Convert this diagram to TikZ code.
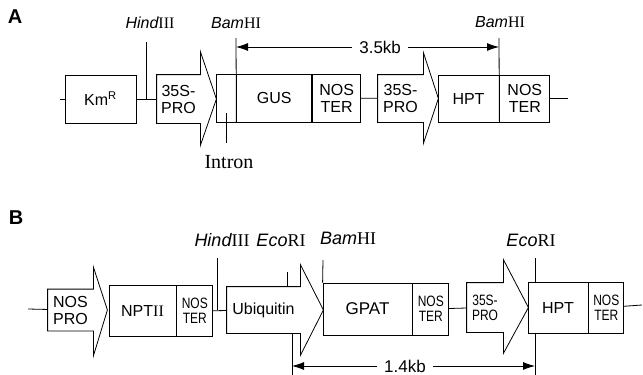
\documentclass[tikz,border=0pt]{standalone}
\usepackage{fontspec}
\setmainfont{Liberation Serif}
\setsansfont{Liberation Sans}
\newfontfamily\condsans[FakeStretch=0.8]{Liberation Sans}
\usetikzlibrary{arrows.meta}
\newcommand\renz[2]{{\sffamily\itshape #1}{\rmfamily #2}}
\tikzset{
  part/.style={draw, rectangle, inner sep=0pt, align=center, font=\sffamily\fontsize{16}{17}\selectfont},
  prom/.style={rectangle, inner sep=0pt, align=center, font=\sffamily\fontsize{16}{17}\selectfont},
  cond/.style={font=\condsans\fontsize{15}{15}\selectfont},
  site/.style={font=\fontsize{16}{18}\selectfont},
  panel/.style={font=\sffamily\bfseries\fontsize{20}{20}\selectfont},
  dim/.style={{Latex[length=12pt,width=8pt]}-{Latex[length=12pt,width=8pt]}},
}
\begin{document}
\begin{tikzpicture}[x=1pt,y=-1pt,line width=0.8pt]
  \useasboundingbox (0,0) rectangle (643,375);
  % A
  \node[panel] (labA) at (15,17) {A};
  \node[part, minimum width=71pt, minimum height=48pt] (km) at (100.5,99) {Km\textsuperscript{R}};
  \node[prom, minimum width=43pt, minimum height=48pt] (proA1) at (178.5,99) {35S-\\PRO};
  \draw (proA1.south west) -- (proA1.north west) -- (proA1.north east) -- ([yshift=23pt]proA1.north east)
    -- ([xshift=16pt]proA1.east) -- ([yshift=-22pt]proA1.south east) -- (proA1.south east) -- cycle;
  \node[part, minimum width=20pt, minimum height=48pt] (intr) at (226,98) {};
  \node[part, minimum width=75pt, minimum height=48pt, anchor=west] (gus) at (intr.east) {GUS};
  \node[part, minimum width=48pt, minimum height=48pt, anchor=west] (terA1) at (gus.east) {NOS\\TER};
  \node[prom, minimum width=45pt, minimum height=47pt] (proA2) at (400.5,98.5) {35S-\\PRO};
  \draw (proA2.south west) -- (proA2.north west) -- (proA2.north east) -- ([yshift=22pt]proA2.north east)
    -- ([xshift=15pt]proA2.east) -- ([yshift=-21pt]proA2.south east) -- (proA2.south east) -- cycle;
  \node[part, minimum width=61pt, minimum height=47pt] (hptA) at (468.5,98.5) {HPT};
  \node[part, minimum width=50pt, minimum height=47pt, anchor=west] (terA2) at (hptA.east) {NOS\\TER};
  \coordinate (startA) at (60,99);
  \coordinate (endA) at (568,98.5);
  \draw (startA) -- (km);
  \draw (km) -- (proA1);
  \draw (terA1) -- (proA2);
  \draw (terA2) -- (endA);
  % sites A
  \node[site] (hindA) at (150,23) {\renz{Hind}{III}};
  \node[site] (bamA1) at (236,23) {\renz{Bam}{HI}};
  \node[site] (bamA2) at (500,22) {\renz{Bam}{HI}};
  \coordinate (cutA1) at (146,42);
  \coordinate (cutA2) at (236,38);
  \coordinate (cutA3) at (499,38);
  \draw (cutA1) -- (cutA1 |- km.west);
  \draw (cutA2) -- (gus.south west);
  \draw (cutA3) -- (hptA.south east);
  \node[font=\rmfamily\fontsize{20}{20}\selectfont] (intron) at (229,162) {Intron};
  \coordinate (intA) at (226,113);
  \draw (intA) -- (226,143);
  \draw[dim] (cutA2 |- 0,47) -- (cutA3 |- 0,47)
    node[pos=0.548, fill=white, inner xsep=7pt, font=\sffamily\fontsize{17}{17}\selectfont] {3.5kb};
  % B
  \node[panel] (labB) at (16,218) {B};
  \node[prom, minimum width=45pt, minimum height=41pt] (proB1) at (70.5,310) {NOS\\PRO};
  \draw (proB1.south west) -- (proB1.north west) -- (proB1.north east) -- ([yshift=22pt]proB1.north east)
    -- ([xshift=14pt]proB1.east) -- ([yshift=-25pt]proB1.south east) -- (proB1.south east) -- cycle;
  \node[part, minimum width=67pt, minimum height=51pt] (npt) at (142.5,311) {NPT{\rmfamily II}};
  \node[part, cond, minimum width=36pt, minimum height=51pt, anchor=west] (terB1) at (npt.east) {NOS\\TER};
  \node[prom, minimum width=73pt, minimum height=46pt] (ubq) at (263.5,310) {Ubiquitin};
  \draw (ubq.south west) -- (ubq.north west) -- (ubq.north east) -- ([yshift=22pt]ubq.north east)
    -- ([xshift=23pt]ubq.east) -- ([yshift=-22pt]ubq.south east) -- (ubq.south east) -- cycle;
  \node[part, minimum width=89pt, minimum height=52pt, font=\sffamily\fontsize{17}{17}\selectfont] (gpat) at (367.5,309) {GPAT};
  \node[part, cond, minimum width=36pt, minimum height=52pt, anchor=west] (terB2) at (gpat.east) {NOS\\TER};
  \node[prom, cond, minimum width=36pt, minimum height=49pt] (proB2) at (485,307.5) {35S-\\PRO};
  \draw (proB2.south west) -- (proB2.north west) -- (proB2.north east) -- ([yshift=23pt]proB2.north east)
    -- ([xshift=25pt]proB2.east) -- ([yshift=-21pt]proB2.south east) -- (proB2.south east) -- cycle;
  \node[part, minimum width=60pt, minimum height=51pt] (hptB) at (558,307.5) {HPT};
  \node[part, cond, minimum width=35pt, minimum height=51pt, anchor=west] (terB3) at (hptB.east) {NOS\\TER};
  \coordinate (startB) at (28,309);
  \coordinate (endB) at (642,305);
  \draw (startB) -- (proB1);
  \draw (terB1) -- (ubq);
  \draw (terB2) -- (proB2);
  \draw (terB3) -- (endB);
  % sites B
  \node[site, font=\fontsize{18}{20}\selectfont] (hindB) at (222,240) {\renz{Hind}{III}};
  \node[site, font=\fontsize{18}{20}\selectfont] (ecoB1) at (281,240) {\renz{Eco}{RI}};
  \node[site, font=\fontsize{18}{20}\selectfont] (bamB) at (348,238) {\renz{Bam}{HI}};
  \node[site, font=\fontsize{18}{20}\selectfont] (ecoB2) at (531,240) {\renz{Eco}{RI}};
  \coordinate (cutB1) at (217,258);
  \coordinate (cutB2) at (287,272);
  \coordinate (cutB3) at (323,260);
  \coordinate (cutB4) at (535,258);
  \coordinate (cutB5) at (292,375);
  \coordinate (cutB6) at (535,375);
  \draw (cutB1) -- (cutB1 |- ubq.west);
  \draw (cutB2) -- (cutB2 |- ubq.north);
  \draw (cutB3) -- (gpat.north west);
  \draw (cutB4) -- (cutB4 |- hptB.north);
  \draw (cutB5) -- (cutB5 |- ubq.south);
  \draw (cutB6) -- (cutB6 |- hptB.south);
  \draw[dim] (cutB5 |- 0,366) -- (cutB6 |- 0,366)
    node[pos=0.465, fill=white, inner xsep=7pt, font=\sffamily\fontsize{17}{17}\selectfont] {1.4kb};
\end{tikzpicture}
\end{document}
